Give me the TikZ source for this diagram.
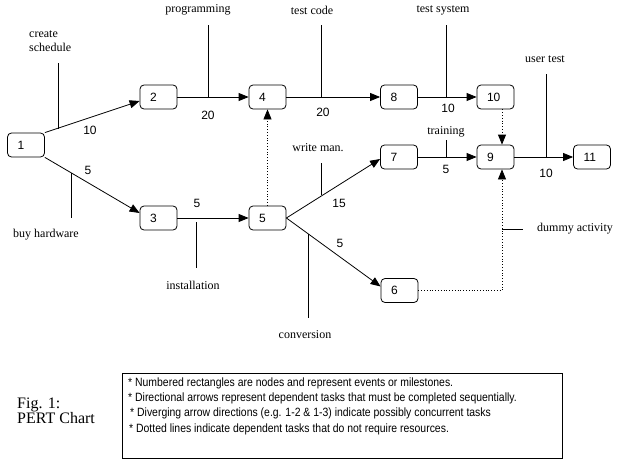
\documentclass[tikz,border=0pt]{standalone}
\usepackage{fontspec}
\setmainfont{Liberation Serif}
\newfontfamily\numfont{Liberation Sans}
\newfontfamily\legfont[FakeStretch=0.87]{Liberation Sans}
\usetikzlibrary{arrows.meta}
\newcommand{\boxh}{24pt}
\newcommand{\edgew}{0.8pt}
\newcommand{\tipl}{10pt}

\begin{document}
\begin{tikzpicture}[x=1pt,y=-1pt,
	event/.style={draw, rounded corners=4pt, line width=\edgew, minimum height=\boxh,
		text width=17pt, inner xsep=10pt, align=left, font=\numfont\fontsize{12}{12}\selectfont},
	task/.style={line width=\edgew, -{Triangle[length=\tipl,width=8pt]}},
	dummy/.style={line width=\edgew, dotted, -{Triangle[length=\tipl,width=8pt]}},
	lead/.style={line width=0.7pt},
	lbl/.style={font=\fontsize{12}{14}\selectfont, inner sep=0pt},
	dur/.style={font=\numfont\fontsize{12}{12}\selectfont, inner sep=0pt},
	legline/.style={anchor=west, inner sep=0pt, font=\legfont\fontsize{12}{12}\selectfont}]
	
	\useasboundingbox (0,0) rectangle (622,471);
	%\draw[help lines] (0,0) grid[step=50] (622,471);
	
	% events
	\node[event] (n1) at (26,145) {1};
	\node[event] (n2) at (158.5,97) {2};
	\node[event] (n4) at (267.5,97) {4};
	\node[event] (n8) at (399,97) {8};
	\node[event] (n10) at (495.5,97) {10};
	\node[event] (n3) at (158.5,218) {3};
	\node[event] (n5) at (267.5,218) {5};
	\node[event] (n7) at (399,157) {7};
	\node[event] (n9) at (495.5,157) {9};
	\node[event] (n11) at (592,157) {11};
	\node[event] (n6) at (399.5,290.5) {6};
	
	% tasks
	\draw[task] (n1.north east) -- ([yshift=-4pt]n2.west);
	\draw[task] (n1.south east) -- ([yshift=5pt]n3.west);
	\draw[task] (n2) -- (n4);
	\draw[task] (n3) -- (n5);
	\draw[task] (n4) -- (n8);
	\draw[task] (n8) -- (n10);
	\draw[task] (n5.east) -- ([yshift=-2pt]n7.west);
	\draw[task] (n5.east) -- ([yshift=4pt]n6.west);
	\draw[task] (n7) -- (n9);
	\draw[task] (n9) -- (n11);
	
	% dummies
	\draw[dummy] (n5.north) -- (n4.south);
	\draw[dummy] ([xshift=6.5pt]n10.south) -- ([xshift=6.5pt]n9.north);
	\draw[dummy] (n6.east) -| ([xshift=6.5pt]n9.south);
	
	% durations
	\node[dur] (d12) at (90,130) {10};
	\node[dur] (d13) at (88,170) {5};
	\node[dur] (d24) at (208,115) {20};
	\node[dur] (d35) at (197,203) {5};
	\node[dur] (d48) at (323,112) {20};
	\node[dur] (d810) at (448,108) {10};
	\node[dur] (d57) at (339,203) {15};
	\node[dur] (d56) at (340,243) {5};
	\node[dur] (d79) at (446,169) {5};
	\node[dur] (d911) at (546,173) {10};
	
	% task names
	\node[lbl, anchor=west, align=left] (lsched) at (29,41) {create\\schedule};
	\node[lbl] (lhard) at (46,235) {buy hardware};
	\node[lbl] (lprog) at (198,10) {programming};
	\node[lbl] (lcode) at (312,10) {test code};
	\node[lbl] (lsys) at (443,10) {test system};
	\node[lbl] (luser) at (545,59) {user test};
	\node[lbl] (ltrain) at (446,132) {training};
	\node[lbl] (lman) at (318,148) {write man.};
	\node[lbl] (linst) at (193,285) {installation};
	\node[lbl] (lconv) at (305,335) {conversion};
	\node[lbl, anchor=west] (ldummy) at (537,229) {dummy activity};
	
	% leaders
	\coordinate (sched1) at (58,63);   \coordinate (sched2) at (58,128.5);
	\coordinate (hard1) at (71,173);   \coordinate (hard2) at (71,218);
	\coordinate (prog1) at (208,25);   \coordinate (prog2) at (208,97);
	\coordinate (code1) at (321,25);   \coordinate (code2) at (321,97);
	\coordinate (sys1) at (446,25);    \coordinate (sys2) at (446,97);
	\coordinate (user1) at (546,74);   \coordinate (user2) at (546,157);
	\coordinate (train1) at (446,140); \coordinate (train2) at (446,157);
	\coordinate (man1) at (321,163);   \coordinate (man2) at (321,195.4);
	\coordinate (inst1) at (196,222);  \coordinate (inst2) at (196,268);
	\coordinate (conv1) at (308,234);  \coordinate (conv2) at (308,318);
	\coordinate (dum1) at (502,229);   \coordinate (dum2) at (523,229);
	\draw[lead] (sched1) -- (sched2);
	\draw[lead] (hard1) -- (hard2);
	\draw[lead] (prog1) -- (prog2);
	\draw[lead] (code1) -- (code2);
	\draw[lead] (sys1) -- (sys2);
	\draw[lead] (user1) -- (user2);
	\draw[lead] (train1) -- (train2);
	\draw[lead] (man1) -- (man2);
	\draw[lead] (inst1) -- (inst2);
	\draw[lead] (conv1) -- (conv2);
	\draw[lead] (dum1) -- (dum2);
	
	% caption and legend
	\node[anchor=west, align=left, inner sep=0pt, font=\fontsize{16}{15}\selectfont] (fig) at (17,410.5) {Fig. 1:\\PERT Chart};
	\coordinate (leg1) at (122,373);
	\coordinate (leg2) at (562,458);
	\draw[line width=\edgew] (leg1) rectangle (leg2);
	\node[legline] (leg a) at (128,383) {* Numbered rectangles are nodes and represent events or milestones.};
	\node[legline] (leg b) at (128,398) {* Directional arrows represent dependent tasks that must be completed sequentially.};
	\node[legline] (leg c) at (130,413) {* Diverging arrow directions (e.g. 1-2 \& 1-3) indicate possibly concurrent tasks};
	\node[legline] (leg d) at (129,429) {* Dotted lines indicate dependent tasks that do not require resources.};
\end{tikzpicture}
\end{document}
